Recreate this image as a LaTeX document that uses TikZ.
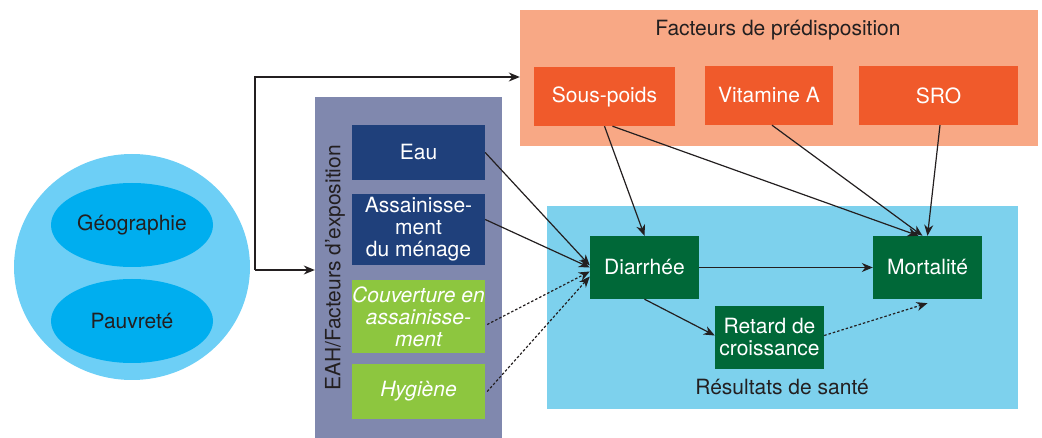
\documentclass[tikz,border=0pt]{standalone}
\usepackage{fontspec}
\setmainfont{TeX Gyre Heros}
\usetikzlibrary{arrows.meta,shapes.geometric}
\definecolor{orlight}{HTML}{F8A885}
\definecolor{ordark}{HTML}{F05A2B}
\definecolor{bluelight}{HTML}{7DD1ED}
\definecolor{greendark}{HTML}{006838}
\definecolor{purplebox}{HTML}{8088AE}
\definecolor{navy}{HTML}{1F407B}
\definecolor{lime}{HTML}{8DC63F}
\definecolor{circblue}{HTML}{6DCFF6}
\definecolor{ellblue}{HTML}{00AEEF}
\definecolor{ink}{HTML}{231F20}
\begin{document}
\begin{tikzpicture}[x=1pt,y=-1pt,
  font=\fontsize{21}{22}\selectfont,
  area/.style={draw=none,inner sep=0pt,anchor=center},
  box/.style={draw=none,inner sep=0pt,anchor=center,text=white,align=center},
  arr/.style={draw=ink,line width=1.2pt,-{Stealth[length=11pt,width=9pt,inset=3.5pt]}},
  dotarr/.style={arr,dash pattern=on 2.5pt off 2pt},
  lbl/.style={text=ink,inner sep=0pt}]
\useasboundingbox (0,0) rectangle (1042,438);
% background areas
\node[area,fill=orlight,minimum width=518pt,minimum height=136pt] (pred) at (779,78) {};
\node[area,fill=bluelight,minimum width=471pt,minimum height=203pt] (sante) at (782.5,307.5) {};
\node[area,fill=purplebox,minimum width=187pt,minimum height=341pt] (expo) at (408.5,267.5) {};
\node[area,shape=ellipse,fill=circblue,minimum width=236pt,minimum height=226pt] (ctx) at (132,267) {};
% labels of areas
\node[lbl] (tpred) at (778,30) {Facteurs de prédisposition};
\node[lbl] (tsante) at (782,387) {Résultats de santé};
\node[lbl,rotate=90] (texpo) at (335,268) {EAH/Facteurs d’exposition};
% context ellipses
\node[area,shape=ellipse,fill=ellblue,text=ink,minimum width=162pt,minimum height=84pt] (geo) at (132,225) {Géographie};
\node[area,shape=ellipse,fill=ellblue,text=ink,minimum width=162pt,minimum height=84pt] (pau) at (132,321) {Pauvreté};
% predisposition boxes
\node[box,fill=ordark,minimum width=141pt,minimum height=59pt] (sp) at (604.5,96.5) {Sous-poids};
\node[box,fill=ordark,minimum width=128pt,minimum height=59pt] (vit) at (769,95.5) {Vitamine A};
\node[box,fill=ordark,minimum width=159pt,minimum height=59pt] (sro) at (938.5,95.5) {SRO};
% exposure boxes
\node[box,fill=navy,minimum width=133pt,minimum height=55pt] (eau) at (418.5,152.5) {Eau};
\node[box,fill=navy,minimum width=133pt,minimum height=71pt] (ass) at (418.5,229.5) {Assainisse-\\ment\\du ménage};
\node[box,fill=lime,minimum width=133pt,minimum height=73pt,font=\fontsize{21}{22}\selectfont\itshape] (couv) at (418.5,316.5) {Couverture en\\assainisse-\\ment};
\node[box,fill=lime,minimum width=133pt,minimum height=55pt,font=\fontsize{21}{22}\selectfont\itshape] (hyg) at (418.5,391.5) {Hygiène};
% health outcomes
\node[box,fill=greendark,minimum width=109pt,minimum height=63pt] (dia) at (644.5,267.5) {Diarrhée};
\node[box,fill=greendark,minimum width=109pt,minimum height=63pt] (mort) at (927.5,267.5) {Mortalité};
\node[box,fill=greendark,minimum width=109pt,minimum height=63pt] (ret) at (769.5,337.5) {Retard de\\croissance};
% context connectors
\coordinate (j1) at (255,270);
\coordinate (j2) at (255,77);
\draw[arr] (j1) -- (j2) -- (pred.west |- j2);
\draw[arr] (j1) -- (expo.west |- j1);
% exposure to diarrhoea
\draw[arr] (eau.east) -- ([yshift=2pt]dia.west);
\draw[arr] ([yshift=10pt]ass.east) -- ([yshift=0pt]dia.west);
\draw[dotarr] ([yshift=-8pt,xshift=2pt]couv.east) -- ([yshift=-4pt]dia.west);
\draw[dotarr] ([xshift=2pt]hyg.east) -- ([yshift=-9pt]dia.west);
% predisposition
\draw[arr] (sp.south) -- (dia.north);
\draw[arr] ([xshift=8pt]sp.south) -- ([xshift=-9pt]mort.north);
\draw[arr] ([xshift=3pt]vit.south) -- ([xshift=-5pt]mort.north);
\draw[arr] ([xshift=1.5pt]sro.south) -- ([xshift=0pt]mort.north);
% outcomes
\draw[arr] (dia.east) -- (mort.west);
\draw[arr] (dia.south) -- ([yshift=2pt]ret.west);
\draw[dotarr] ([yshift=2pt]ret.east) -- ([yshift=-4pt]mort.south);
\end{tikzpicture}
\end{document}
